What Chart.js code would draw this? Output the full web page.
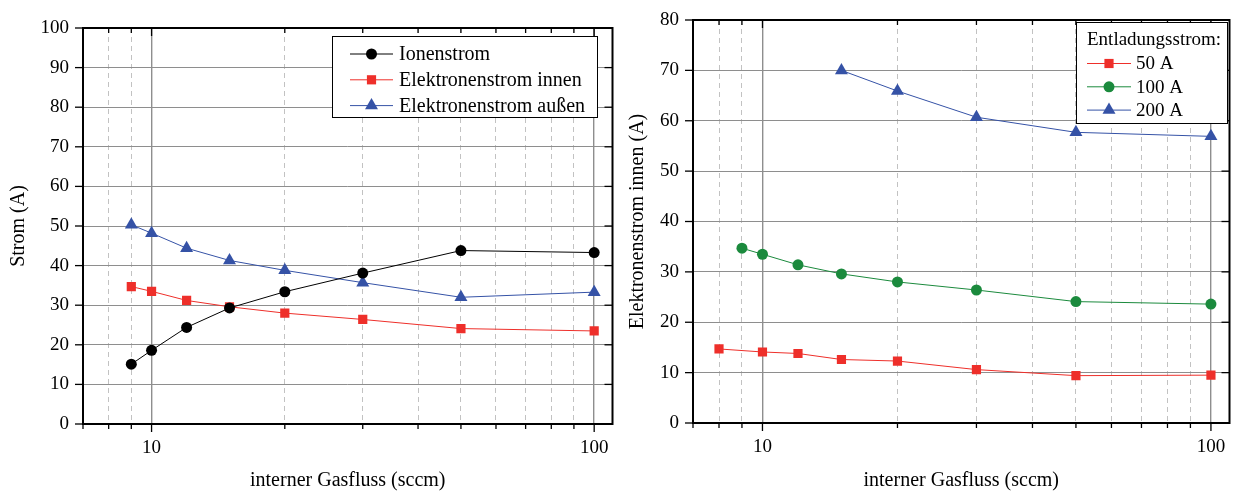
<!DOCTYPE html>
<html><head><meta charset="utf-8">
<script src="https://cdn.jsdelivr.net/npm/chart.js@4/dist/chart.umd.min.js"></script>
<style>
html,body{margin:0;padding:0;background:#fff;}
#wrap{position:relative;width:1237px;height:493px;overflow:hidden;background:#fff;}
canvas{position:absolute;top:0;}
#c1{left:0;} #c2{left:620px;}
</style></head><body>
<div id="wrap"><canvas id="c1" width="620" height="493"></canvas><canvas id="c2" width="617" height="493"></canvas></div>
<script>
// ---------- data ----------
const gasFlowLeft = [9, 10, 12, 15, 20, 30, 50, 100];
const ionenstrom = [15.1, 18.6, 24.4, 29.3, 33.4, 38.1, 43.8, 43.3];
const elektronenstromInnen = [34.7, 33.5, 31.2, 29.6, 28.0, 26.4, 24.1, 23.5];
const elektronenstromAussen = [50.3, 48.2, 44.4, 41.3, 38.8, 35.7, 32.0, 33.3];

const gasFlow50A = [8, 10, 12, 15, 20, 30, 50, 100];
const strom50A = [14.7, 14.1, 13.8, 12.6, 12.3, 10.6, 9.4, 9.5];
const gasFlow100A = [9, 10, 12, 15, 20, 30, 50, 100];
const strom100A = [34.7, 33.5, 31.4, 29.6, 28.0, 26.4, 24.1, 23.6];
const gasFlow200A = [15, 20, 30, 50, 100];
const strom200A = [70.0, 65.9, 60.7, 57.7, 56.9];

const xTickValues = [7, 8, 9, 10, 20, 30, 40, 50, 60, 70, 80, 90, 100];
const xLabelValues = [10, 100];
const legendTitleRight = 'Entladungsstrom:';

// ---------- styling ----------
const FONT = "'Liberation Serif', 'Times New Roman', serif";
Chart.defaults.font.family = FONT;
Chart.defaults.color = '#000';
const RED = '#ee2f2a', BLUE = '#3552a6', GREEN = '#1b8a3d', BLACK = '#000000';

function pts(xs, ys){ return xs.map((v,i)=>({x:v, y:ys[i]})); }

function drawMarker(ctx, style, x, y, r, color){
  ctx.save(); ctx.fillStyle = color; ctx.beginPath();
  if (style === 'circle') { ctx.arc(x, y, r, 0, Math.PI*2); }
  else if (style === 'rect') { const s = Math.SQRT1_2*r; ctx.rect(x-s, y-s, 2*s, 2*s); }
  else if (style === 'triangle') {
    let a = 0; ctx.moveTo(x+Math.sin(a)*r, y-Math.cos(a)*r);
    a += 2*Math.PI/3; ctx.lineTo(x+Math.sin(a)*r, y-Math.cos(a)*r);
    a += 2*Math.PI/3; ctx.lineTo(x+Math.sin(a)*r, y-Math.cos(a)*r);
    ctx.closePath();
  }
  ctx.fill(); ctx.restore();
}

const framePlugin = {
  id: 'frame',
  afterDatasetsDraw(chart){
    const {ctx, chartArea: a, scales: {x, y}} = chart;
    ctx.save();
    ctx.strokeStyle = '#000';
    ctx.lineWidth = 1.3;
    const line = (x1,y1,x2,y2)=>{ctx.beginPath();ctx.moveTo(x1,y1);ctx.lineTo(x2,y2);ctx.stroke();};
    x.ticks.forEach(t=>{
      const px = x.getPixelForValue(t.value);
      const len = xLabelValues.includes(t.value) ? 8 : 5;
      line(px, a.bottom, px, a.bottom+len);
      line(px, a.top, px, a.top+len);
    });
    y.ticks.forEach(t=>{
      const py = y.getPixelForValue(t.value);
      const len = (t.value % 10 === 0) ? 8 : 5;
      line(a.left-len, py, a.left, py);
      line(a.right-len, py, a.right, py);
    });
    ctx.lineWidth = 2;
    ctx.strokeRect(a.left, a.top, a.right-a.left, a.bottom-a.top);
    ctx.restore();
  }
};

const boxLegendPlugin = {
  id: 'boxLegend',
  afterDraw(chart, args, o){
    const ctx = chart.ctx;
    ctx.save();
    ctx.fillStyle = '#fff';
    ctx.fillRect(o.x, o.y, o.w, o.h);
    ctx.strokeStyle = '#000'; ctx.lineWidth = 1;
    ctx.strokeRect(o.x+0.5, o.y+0.5, o.w, o.h);
    ctx.font = o.fontSize + 'px ' + FONT;
    ctx.textBaseline = 'middle'; ctx.textAlign = 'left'; ctx.fillStyle = '#000';
    let yy = o.firstRow;
    if (o.title) { ctx.fillText(o.title, o.titleX, o.titleY); }
    chart.data.datasets.forEach(ds=>{
      ctx.strokeStyle = ds.borderColor; ctx.lineWidth = 1;
      ctx.beginPath(); ctx.moveTo(o.lineX1, yy); ctx.lineTo(o.lineX2, yy); ctx.stroke();
      drawMarker(ctx, ds.pointStyle, (o.lineX1+o.lineX2)/2, yy, ds.pointRadius, ds.pointBackgroundColor);
      ctx.fillStyle = '#000';
      ctx.fillText(ds.label, o.textX, yy+1);
      yy += o.rowH;
    });
    ctx.restore();
  }
};

function makeDataset(label, data, color, style, r){
  return {label, data, borderColor: color, backgroundColor: color, pointBackgroundColor: color,
    pointBorderColor: color, pointBorderWidth: 0, pointStyle: style, pointRadius: r, pointHoverRadius: r,
    borderWidth: 1, tension: 0, fill: false};
}

function zeroPad(s){ s.paddingTop = 0; s.paddingBottom = 0; s.paddingLeft = 0; s.paddingRight = 0; }

function makeOptions(cfg){
  return {
    responsive: false, animation: false, maintainAspectRatio: false,
    layout: {padding: {left: 0, top: cfg.top, right: cfg.right, bottom: 0}},
    plugins: {legend: {display: false}, tooltip: {enabled: false}, boxLegend: cfg.legend},
    scales: {
      x: {
        type: 'logarithmic', min: 7, max: 110,
        afterBuildTicks: s => { s.ticks = xTickValues.map(v=>({value: v, major: xLabelValues.includes(v)})); },
        afterFit: s => { s.height = cfg.xh; zeroPad(s); },
        ticks: {autoSkip: false, maxRotation: 0, padding: 13, font: {size: 19},
          callback: v => xLabelValues.includes(v) ? String(v) : ''},
        grid: {drawTicks: false,
          color: c => (c.tick && xLabelValues.includes(c.tick.value)) ? '#8e8e8e' : '#c2c2c2',
          lineWidth: c => (c.tick && xLabelValues.includes(c.tick.value)) ? 1.4 : 1},
        border: {display: false, dash: c => (c.tick && xLabelValues.includes(c.tick.value)) ? [] : [5,4]},
        title: {display: true, text: 'interner Gasfluss (sccm)', font: {size: 20}, padding: {top: 0, bottom: 0}}
      },
      y: {
        type: 'linear', min: 0, max: cfg.ymax,
        afterFit: s => { s.width = cfg.yw; zeroPad(s); },
        ticks: {stepSize: 5, padding: 14, font: {size: 19},
          callback: v => (v % 10 === 0) ? String(v) : ''},
        grid: {drawTicks: false,
          color: c => (c.tick && c.tick.value % 10 === 0) ? '#8e8e8e' : '#c2c2c2',
          lineWidth: 1},
        border: {display: false, dash: c => (c.tick && c.tick.value % 10 === 0) ? [] : [5,4]},
        title: {display: true, text: cfg.ytitle, font: {size: 20}, padding: {top: cfg.ytpad, bottom: 0}}
      }
    }
  };
}

new Chart(document.getElementById('c1'), {
  type: 'line',
  data: {datasets: [
    makeDataset('Ionenstrom', pts(gasFlowLeft, ionenstrom), BLACK, 'circle', 5.5),
    makeDataset('Elektronenstrom innen', pts(gasFlowLeft, elektronenstromInnen), RED, 'rect', 6.5),
    makeDataset('Elektronenstrom außen', pts(gasFlowLeft, elektronenstromAussen), BLUE, 'triangle', 7.5)
  ]},
  options: makeOptions({top: 28, right: 7, xh: 69, yw: 83, ymax: 100, ytitle: 'Strom (A)', ytpad: 7,
    legend: {x: 332, y: 36, w: 265, h: 81, fontSize: 20, firstRow: 54, rowH: 25.8, lineX1: 350, lineX2: 393, textX: 399}}),
  plugins: [framePlugin, boxLegendPlugin]
});

new Chart(document.getElementById('c2'), {
  type: 'line',
  data: {datasets: [
    makeDataset('50 A', pts(gasFlow50A, strom50A), RED, 'rect', 6.5),
    makeDataset('100 A', pts(gasFlow100A, strom100A), GREEN, 'circle', 5.5),
    makeDataset('200 A', pts(gasFlow200A, strom200A), BLUE, 'triangle', 7.5)
  ]},
  options: makeOptions({top: 20, right: 3, xh: 70, yw: 73, ymax: 80, ytitle: 'Elektronenstrom innen (A)', ytpad: 6,
    legend: {x: 456, y: 22, w: 151, h: 101, fontSize: 19, title: legendTitleRight, titleX: 467, titleY: 40,
      firstRow: 63.5, rowH: 23.3, lineX1: 467, lineX2: 511, textX: 516}}),
  plugins: [framePlugin, boxLegendPlugin]
});
</script>
</body></html>
